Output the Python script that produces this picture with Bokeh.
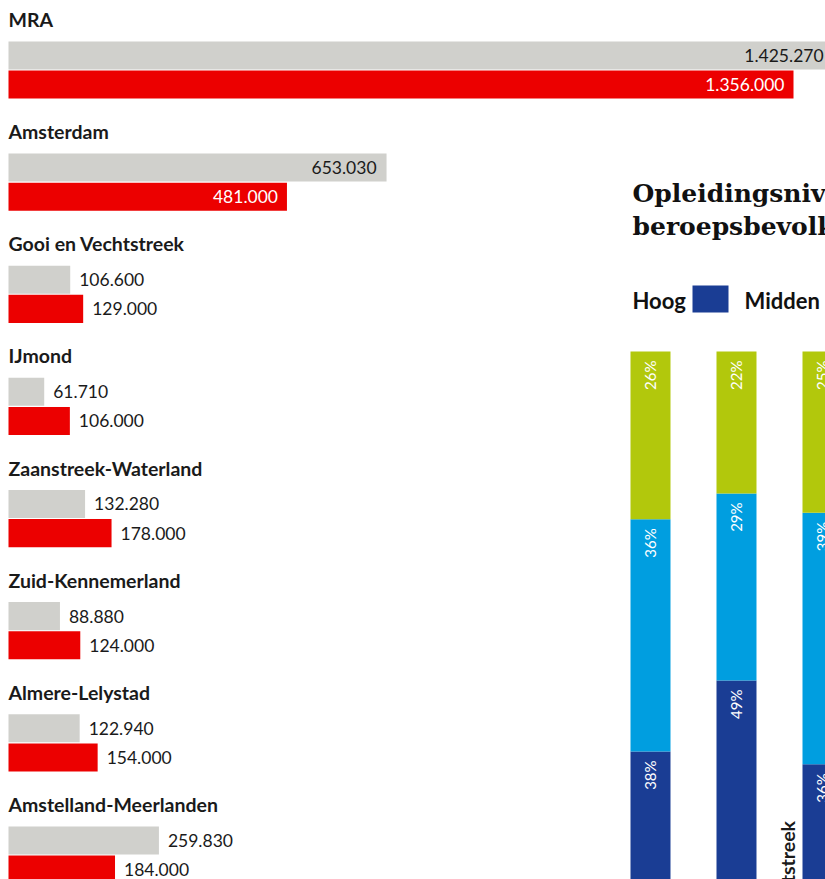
import math
from bokeh.plotting import figure
from bokeh.models import Range1d, ColumnDataSource, Label, BoxAnnotation
from bokeh.transform import dodge, stack
from bokeh.core.properties import value
from bokeh.embed import file_html
from bokeh.resources import INLINE

# ---- data: beroepsbevolking per regio ----
regions = ["MRA", "Amsterdam", "Gooi en Vechtstreek", "IJmond",
           "Zaanstreek-Waterland", "Zuid-Kennemerland", "Almere-Lelystad",
           "Amstelland-Meerlanden"]
grey_values = [1425270, 653030, 106600, 61710, 132280, 88880, 122940, 259830]
red_values = [1356000, 481000, 129000, 106000, 178000, 124000, 154000, 184000]

# ---- data: opleidingsniveau beroepsbevolking (%) ----
edu_regions = ["MRA", "Amsterdam", "Gooi en Vechtstreek"]
edu_hoog = [38, 49, 36]
edu_midden = [36, 29, 39]
edu_laag = [26, 22, 25]

# ---- style ----
GREY = "#d0d0cc"
RED = "#ec0000"
DARKBLUE = "#1a3d94"
LIGHTBLUE = "#009ee0"
GREEN = "#b2c80c"
TXT = "#1a1a1a"
FONT = "Lato"
W, H = 825, 879


def fmt(v):
    return f"{v:,}".replace(",", ".")


p = figure(width=W, height=H, output_backend="svg", toolbar_location=None,
           x_range=Range1d(-13819, 1411273), y_range=Range1d(7.2187, -0.6198),
           x_axis_location=None, y_axis_location=None,
           min_border=0, min_border_left=0, min_border_right=0,
           min_border_top=0, min_border_bottom=0,
           outline_line_color=None, background_fill_color="white",
           border_fill_color="white")
p.grid.visible = False

# ---------- left panel ----------
INSIDE = 400000
src = ColumnDataSource(dict(
    region=regions,
    idx=list(range(len(regions))),
    grey=grey_values,
    red=red_values,
    grey_lbl=[fmt(v) for v in grey_values],
    red_lbl=[fmt(v) for v in red_values],
    grey_align=["right" if v > INSIDE else "left" for v in grey_values],
    red_align=["right" if v > INSIDE else "left" for v in red_values],
    grey_off=[-10 if v > INSIDE else 9 for v in grey_values],
    red_off=[-9 if v > INSIDE else 9 for v in red_values],
    grey_col=[TXT for v in grey_values],
    red_col=["white" if v > INSIDE else TXT for v in red_values],
))

p.hbar(y=dodge("idx", -0.13, range=p.y_range), left=0, right="grey",
       height=0.25, fill_color=GREY, line_color=None, source=src)
p.hbar(y=dodge("idx", 0.13, range=p.y_range), left=0, right="red",
       height=0.25, fill_color=RED, line_color=None, source=src)

p.text(x=0, y=dodge("idx", -0.45, range=p.y_range), text="region", source=src,
       text_font=value(FONT), text_font_style="bold", text_font_size="19.5px",
       text_color=TXT, text_baseline="middle", text_align="left")
p.text(x="grey", y=dodge("idx", -0.13, range=p.y_range), text="grey_lbl",
       source=src, x_offset="grey_off", text_align="grey_align",
       text_color="grey_col", text_font=value(FONT), text_font_size="17.5px",
       text_baseline="middle")
p.text(x="red", y=dodge("idx", 0.13, range=p.y_range), text="red_lbl",
       source=src, x_offset="red_off", text_align="red_align",
       text_color="red_col", text_font=value(FONT), text_font_size="17.5px",
       text_baseline="middle")

# ---------- right panel ----------
p.extra_x_ranges = {"edu": Range1d(-7.5581, 2.0349)}
p.extra_y_ranges = {"pct": Range1d(18.14, 154.42)}

src2 = ColumnDataSource(dict(
    region=edu_regions,
    j=list(range(len(edu_regions))),
    hoog=edu_hoog, midden=edu_midden, laag=edu_laag,
    hoog_lbl=[f"{v}%" for v in edu_hoog],
    midden_lbl=[f"{v}%" for v in edu_midden],
    laag_lbl=[f"{v}%" for v in edu_laag],
))

p.vbar_stack(["hoog", "midden", "laag"], x="j", width=0.465,
             fill_color=[DARKBLUE, LIGHTBLUE, GREEN], line_color=None,
             source=src2, x_range_name="edu", y_range_name="pct")

for cols, lbl in [(("hoog",), "hoog_lbl"), (("hoog", "midden"), "midden_lbl"),
                  (("hoog", "midden", "laag"), "laag_lbl")]:
    p.text(x="j", y=stack(*cols), text=lbl, source=src2, angle=math.pi / 2,
           text_align="right", text_baseline="middle", y_offset=9,
           text_color="white", text_font=value(FONT), text_font_size="15px",
           x_range_name="edu", y_range_name="pct")

p.text(x="j", y=0, text="region", source=src2, angle=math.pi / 2,
       text_align="left", text_baseline="alphabetic", x_offset=-35,
       text_color=TXT, text_font=value(FONT), text_font_style="bold",
       text_font_size="19.5px", x_range_name="edu", y_range_name="pct")

# title and legend (screen units, measured from the bottom)
for txt, yy in [("Opleidingsniveau", H - 193), ("beroepsbevolking", H - 226)]:
    p.add_layout(Label(x=632, y=yy, x_units="screen", y_units="screen", text=txt,
                       text_font="DejaVu Serif", text_font_style="bold",
                       text_font_size="25px", text_color="#111111",
                       text_baseline="alphabetic"))

p.add_layout(Label(x=632, y=H - 300, x_units="screen", y_units="screen",
                   text="Hoog", text_font=FONT, text_font_style="bold",
                   text_font_size="22px", text_color="#111111",
                   text_baseline="alphabetic"))
p.add_layout(BoxAnnotation(left=692, right=728, top=H - 285, bottom=H - 312,
                           left_units="screen", right_units="screen",
                           top_units="screen", bottom_units="screen",
                           fill_color=DARKBLUE, fill_alpha=1, line_color=None))
p.add_layout(Label(x=744, y=H - 300, x_units="screen", y_units="screen",
                   text="Midden", text_font=FONT, text_font_style="bold",
                   text_font_size="22px", text_color="#111111",
                   text_baseline="alphabetic"))

open("out.html", "w").write(file_html(p, INLINE))
